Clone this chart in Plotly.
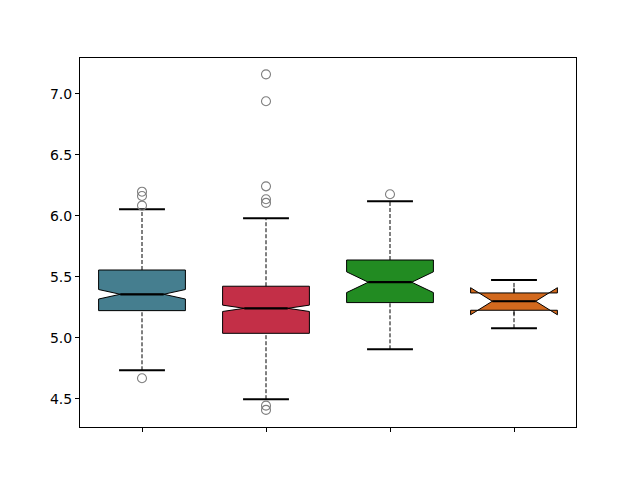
import plotly.graph_objects as go

positions = [1, 2, 3, 4]
q1 = [5.224, 5.038, 5.290, 5.227]
median = [5.358, 5.243, 5.457, 5.301]
q3 = [5.557, 5.424, 5.639, 5.369]
whisker_low = [4.735, 4.498, 4.907, 5.080]
whisker_high = [6.055, 5.981, 6.120, 5.475]
notch_half = [0.039, 0.026, 0.085, 0.111]
colors = ["#457E8F", "#C32F47", "#228B22", "#D2691E"]
outlier_x = [1, 1, 1, 1, 2, 2, 2, 2, 2, 2, 2, 3]
outlier_y = [6.199, 6.164, 6.085, 4.670, 7.161, 6.940, 6.243, 6.137, 6.107, 4.445, 4.410, 6.178]

box_width = 0.7
cap_half = 0.185
med_half = 0.175

fig = go.Figure()

# dashed whiskers
wx, wy = [], []
for p, a, b, lo, hi in zip(positions, q1, q3, whisker_low, whisker_high):
    wx += [p, p, None, p, p, None]
    wy += [lo, a, None, b, hi, None]
fig.add_trace(go.Scatter(x=wx, y=wy, mode="lines",
                         line=dict(color="black", width=1, dash="4px,2px"),
                         showlegend=False, hoverinfo="skip"))

# caps
cx, cy = [], []
for p, lo, hi in zip(positions, whisker_low, whisker_high):
    cx += [p - cap_half, p + cap_half, None, p - cap_half, p + cap_half, None]
    cy += [lo, lo, None, hi, hi, None]
fig.add_trace(go.Scatter(x=cx, y=cy, mode="lines",
                         line=dict(color="black", width=2),
                         showlegend=False, hoverinfo="skip"))

for p, a, m, b, n, c in zip(positions, q1, median, q3, notch_half, colors):
    fig.add_trace(go.Box(x=[p], q1=[a], median=[m], q3=[b],
                         lowerfence=[a], upperfence=[b],
                         notched=True, notchspan=[n], notchwidth=0.25,
                         width=box_width, whiskerwidth=0,
                         fillcolor=c, line=dict(color="black", width=1),
                         boxpoints=False, showlegend=False, hoverinfo="skip"))

# medians
mx, my = [], []
for p, m in zip(positions, median):
    mx += [p - med_half, p + med_half, None]
    my += [m, m, None]
fig.add_trace(go.Scatter(x=mx, y=my, mode="lines",
                         line=dict(color="black", width=2.2),
                         showlegend=False, hoverinfo="skip"))

fig.add_trace(go.Scatter(x=outlier_x, y=outlier_y, mode="markers",
                         marker=dict(symbol="circle-open", size=9,
                                     color="#7f7f7f", line=dict(width=1.1)),
                         showlegend=False, hoverinfo="skip"))

fig.update_layout(
    width=640, height=480,
    margin=dict(l=72, r=72, t=50, b=61),
    paper_bgcolor="white", plot_bgcolor="white",
    font=dict(family="DejaVu Sans", size=14, color="black"),
    showlegend=False,
)
fig.update_xaxes(range=[0.5, 4.5], tickvals=positions, ticktext=[""] * 4,
                 ticks="outside", ticklen=4, tickwidth=1, tickcolor="black",
                 showline=True, linecolor="black", linewidth=1, mirror=True,
                 showgrid=False, zeroline=False)
fig.update_yaxes(range=[4.270, 7.295], tickvals=[4.5, 5.0, 5.5, 6.0, 6.5, 7.0],
                 tickformat=".1f",
                 ticks="outside", ticklen=4, tickwidth=1, tickcolor="black",
                 showline=True, linecolor="black", linewidth=1, mirror=True,
                 showgrid=False, zeroline=False)

fig.write_html("out.html")
